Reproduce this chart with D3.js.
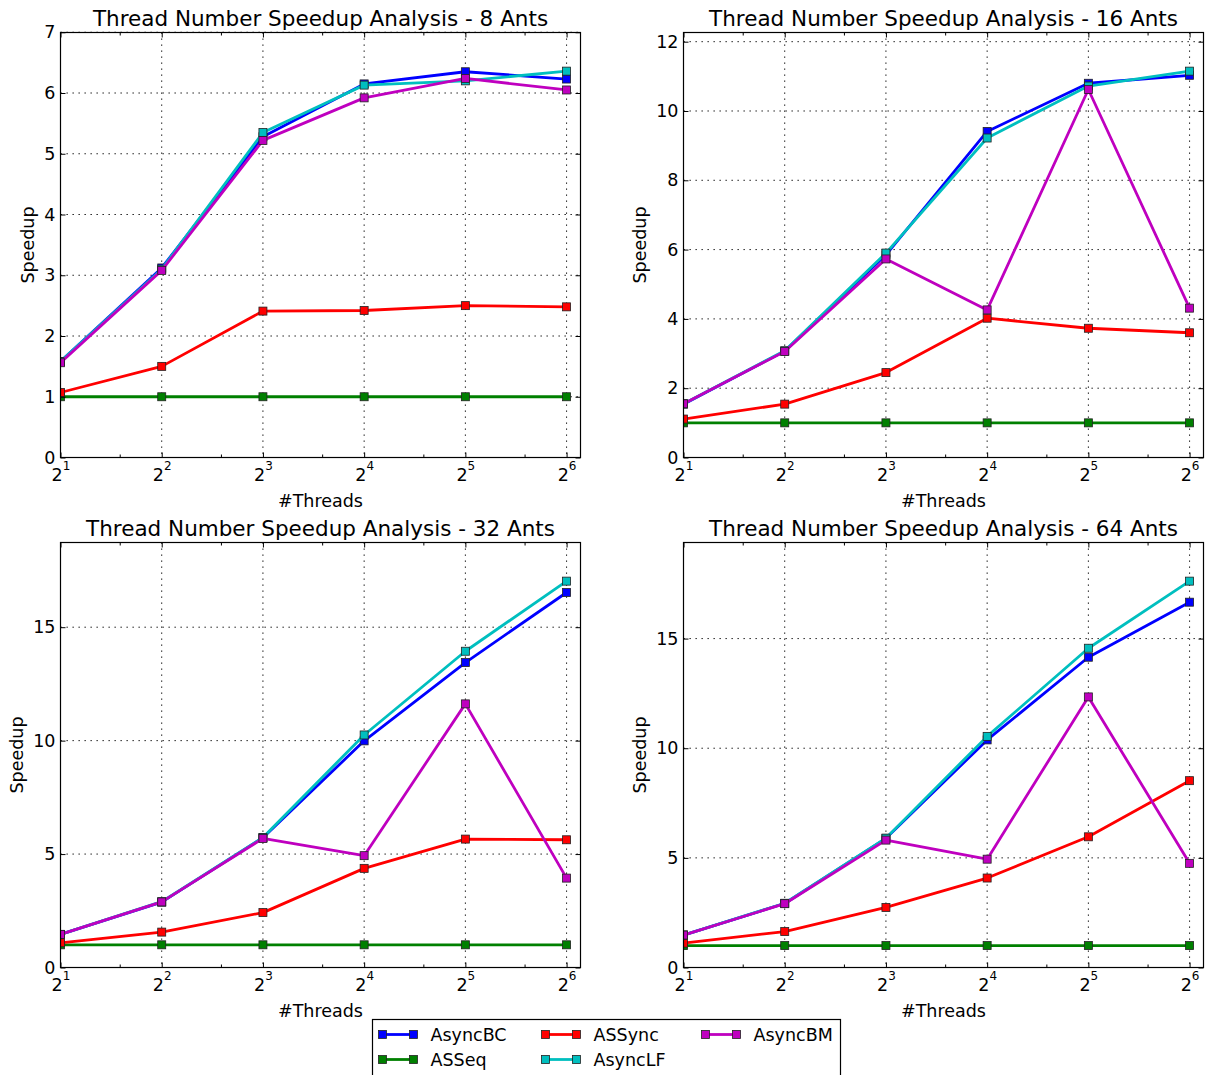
<!DOCTYPE html>
<html>
<head>
<meta charset="utf-8">
<script src="https://cdn.jsdelivr.net/npm/d3@7"></script>
<style>
  body { margin: 0; background: #fff; }
  svg text { font-family: 'DejaVu Sans', sans-serif; fill: #000; }
</style>
</head>
<body>
<svg id="drawing_region"></svg>
<script>
// x values (threads, log base 2 axis)
const threads = [2, 4, 8, 16, 32, 64];
const minorThreads = [3, 6, 12, 24, 48];

// series, in plotting / legend order
const seriesNames = ['AsyncBC', 'ASSeq', 'ASSync', 'AsyncLF', 'AsyncBM'];
const seriesColors = ['#0000ff', '#008000', '#ff0000', '#00bfbf', '#bf00bf'];

const antCounts = [8, 16, 32, 64];
const yTickSteps = [1, 2, 5, 5];

// speedup per series (AsyncBC, ASSeq, ASSync, AsyncLF, AsyncBM)
const speedup8 = [
    [1.58, 3.12, 5.28, 6.15, 6.35, 6.23],
    [1.00, 1.00, 1.00, 1.00, 1.00, 1.00],
    [1.07, 1.50, 2.41, 2.42, 2.50, 2.48],
    [1.58, 3.10, 5.35, 6.13, 6.20, 6.36],
    [1.56, 3.08, 5.22, 5.92, 6.24, 6.05]
];
const speedup16 = [
    [1.54, 3.07, 5.85, 9.41, 10.80, 11.03],
    [1.00, 1.00, 1.00, 1.00, 1.00, 1.00],
    [1.11, 1.54, 2.45, 4.02, 3.73, 3.60],
    [1.55, 3.08, 5.90, 9.22, 10.72, 11.15],
    [1.55, 3.06, 5.73, 4.26, 10.62, 4.31]
];
const speedup32 = [
    [1.46, 2.88, 5.72, 9.99, 13.44, 16.53],
    [1.00, 1.00, 1.00, 1.00, 1.00, 1.00],
    [1.09, 1.56, 2.42, 4.37, 5.66, 5.63],
    [1.46, 2.90, 5.73, 10.25, 13.94, 17.03],
    [1.46, 2.89, 5.69, 4.93, 11.62, 3.94]
];
const speedup64 = [
    [1.48, 2.92, 5.89, 10.38, 14.15, 16.66],
    [1.00, 1.00, 1.00, 1.00, 1.00, 1.00],
    [1.11, 1.64, 2.74, 4.08, 5.96, 8.52],
    [1.48, 2.93, 5.90, 10.54, 14.56, 17.62],
    [1.48, 2.91, 5.81, 4.94, 12.34, 4.75]
];
const allSpeedups = [speedup8, speedup16, speedup32, speedup64];

const svg = d3.select('#drawing_region')
    .attr('width', 1208)
    .attr('height', 1075);

class SpeedupPlot {

    constructor(config, ants, data, step) {
        this.config = config;
        this.ants = ants;
        this.data = data;
        this.step = step;
        this.init();
    }

    init() {
        let self = this;
        const c = self.config;

        self.chart = svg.append('g')
            .attr('transform', `translate(${c.left}, ${c.top})`);

        self.xscale = d3.scaleLog().base(2)
            .domain([2, 64 * 1.1])
            .range([0, c.width]);

        const ymax = d3.max(self.data, s => d3.max(s)) * 1.1;
        self.yscale = d3.scaleLinear()
            .domain([0, ymax])
            .range([c.height, 0]);
        self.yticks = d3.range(0, ymax + self.step * 0.01, self.step);

        self.clipId = 'clip' + self.ants;
        self.chart.append('clipPath').attr('id', self.clipId)
            .append('rect')
            .attr('width', c.width)
            .attr('height', c.height);
    }

    render() {
        let self = this;
        const c = self.config;

        // grid (dotted)
        const grid = self.chart.append('g')
            .attr('stroke', '#000')
            .attr('stroke-width', 1)
            .attr('stroke-dasharray', '1.3,4.7');
        grid.selectAll('line.gx')
            .data(threads)
            .join('line')
            .attr('x1', d => self.xscale(d)).attr('x2', d => self.xscale(d))
            .attr('y1', 0).attr('y2', c.height);
        grid.selectAll('line.gy')
            .data(self.yticks)
            .join('line')
            .attr('class', 'gy')
            .attr('x1', 0).attr('x2', c.width)
            .attr('y1', d => self.yscale(d)).attr('y2', d => self.yscale(d));

        // series
        const line = d3.line()
            .x((d, i) => self.xscale(threads[i]))
            .y(d => self.yscale(d));

        const plot = self.chart.append('g')
            .attr('clip-path', `url(#${self.clipId})`);

        self.data.forEach((values, k) => {
            plot.append('path')
                .datum(values)
                .attr('fill', 'none')
                .attr('stroke', seriesColors[k])
                .attr('stroke-width', 2.8)
                .attr('stroke-linejoin', 'round')
                .attr('d', line);
            plot.append('g')
                .selectAll('rect')
                .data(values)
                .join('rect')
                .attr('x', (d, i) => self.xscale(threads[i]) - 4)
                .attr('y', d => self.yscale(d) - 4)
                .attr('width', 8)
                .attr('height', 8)
                .attr('fill', seriesColors[k])
                .attr('stroke', '#222')
                .attr('stroke-width', 0.8);
        });

        // axes with inward ticks
        const xBottom = self.chart.append('g')
            .attr('transform', `translate(0, ${c.height})`)
            .call(d3.axisBottom(self.xscale).tickValues(threads).tickSize(-5).tickSizeOuter(0).tickPadding(0));
        xBottom.append('g')
            .call(d3.axisBottom(self.xscale).tickValues(minorThreads).tickSize(-3).tickSizeOuter(0).tickFormat(''));
        xBottom.selectAll('.tick text').each(function(d) {
            const t = d3.select(this);
            if (minorThreads.includes(d)) return;
            t.text(null)
                .attr('y', 23)
                .attr('dy', null)
                .attr('font-size', 17.5)
                .attr('font-family', "'DejaVu Sans', sans-serif");
            t.append('tspan').text('2');
            t.append('tspan')
                .attr('dy', -10.5)
                .attr('font-size', 12)
                .text(Math.log2(d));
        });

        const xTop = self.chart.append('g')
            .call(d3.axisTop(self.xscale).tickValues(threads).tickSize(-5).tickSizeOuter(0).tickFormat(''));
        xTop.append('g')
            .call(d3.axisTop(self.xscale).tickValues(minorThreads).tickSize(-3).tickSizeOuter(0).tickFormat(''));

        const yLeft = self.chart.append('g')
            .call(d3.axisLeft(self.yscale).tickValues(self.yticks).tickSize(-5).tickSizeOuter(0)
                .tickPadding(5).tickFormat(d3.format('d')));
        yLeft.selectAll('.tick text')
            .attr('font-size', 17.5)
            .attr('font-family', "'DejaVu Sans', sans-serif");

        self.chart.append('g')
            .attr('transform', `translate(${c.width}, 0)`)
            .call(d3.axisRight(self.yscale).tickValues(self.yticks).tickSize(-5).tickSizeOuter(0).tickFormat(''));

        self.chart.selectAll('.domain').remove();
        self.chart.selectAll('.tick line').attr('stroke', '#000');

        // frame
        self.chart.append('rect')
            .attr('width', c.width)
            .attr('height', c.height)
            .attr('fill', 'none')
            .attr('stroke', '#000')
            .attr('stroke-width', 1.2);

        // title and axis labels
        self.chart.append('text')
            .attr('x', c.width / 2)
            .attr('y', -7)
            .attr('text-anchor', 'middle')
            .attr('font-size', 21.5)
            .text(`Thread Number Speedup Analysis - ${self.ants} Ants`);

        self.chart.append('text')
            .attr('x', c.width / 2)
            .attr('y', c.height + 49)
            .attr('text-anchor', 'middle')
            .attr('font-size', 17.5)
            .text('#Threads');

        const bb = yLeft.node().getBBox();
        const lx = bb.x - 10;
        self.chart.append('text')
            .attr('transform', `translate(${lx}, ${c.height / 2}) rotate(-90)`)
            .attr('text-anchor', 'middle')
            .attr('font-size', 17.5)
            .text('Speedup');
    }
}

const panelConfigs = [
    {left: 60.5, top: 32.5, width: 520, height: 425},
    {left: 683.5, top: 32.5, width: 520, height: 425},
    {left: 60.5, top: 542.5, width: 520, height: 425},
    {left: 683.5, top: 542.5, width: 520, height: 425}
];

antCounts.forEach((ants, i) => {
    const p = new SpeedupPlot(panelConfigs[i], ants, allSpeedups[i], yTickSteps[i]);
    p.render();
});

// legend
const legend = svg.append('g').attr('transform', 'translate(372.5, 1019.5)');
legend.append('rect')
    .attr('width', 468)
    .attr('height', 64)
    .attr('fill', '#fff')
    .attr('stroke', '#000')
    .attr('stroke-width', 1.2);

const colX = [10, 173, 333];
seriesNames.forEach((name, k) => {
    const col = Math.floor(k / 2);
    const row = k % 2;
    const g = legend.append('g')
        .attr('transform', `translate(${colX[col]}, ${15 + row * 25})`);
    g.append('line')
        .attr('x1', 0).attr('x2', 31)
        .attr('stroke', seriesColors[k])
        .attr('stroke-width', 2.8);
    g.selectAll('rect')
        .data([0, 31])
        .join('rect')
        .attr('x', d => d - 4).attr('y', -4)
        .attr('width', 8).attr('height', 8)
        .attr('fill', seriesColors[k])
        .attr('stroke', '#222')
        .attr('stroke-width', 0.8);
    g.append('text')
        .attr('x', 48)
        .attr('y', 6.5)
        .attr('font-size', 17.5)
        .text(name);
});
</script>
</body>
</html>
